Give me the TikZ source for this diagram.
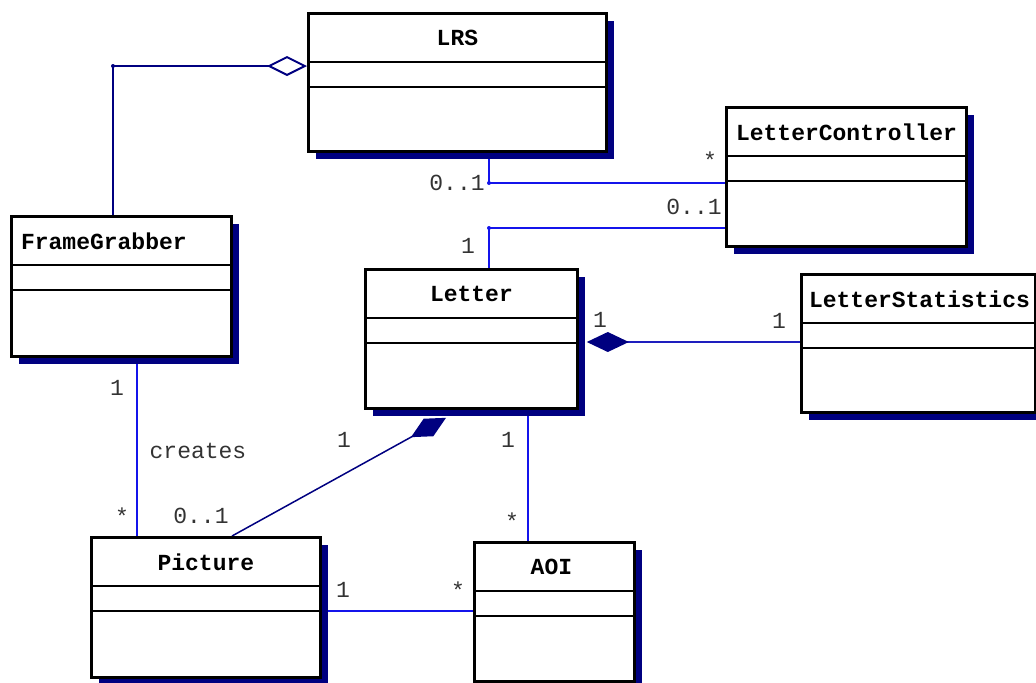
\documentclass[tikz,border=0pt]{standalone}
\usepackage{fontspec}
\setmonofont{Liberation Mono}
\usetikzlibrary{arrows.meta}
\usetikzlibrary{shadows}
\usetikzlibrary{calc}
\usetikzlibrary{backgrounds}

\definecolor{umlnavy}{RGB}{0,0,128}
\definecolor{umlblue}{RGB}{20,20,235}
\definecolor{umlmid}{RGB}{30,30,190}

\tikzset{
  umlclass/.style={draw, line width=1.4pt, fill=white, anchor=north west, inner sep=0pt,
    drop shadow={shadow xshift=4pt, shadow yshift=-4pt, fill=umlnavy, opacity=1}},
  classname/.style={font=\ttfamily\bfseries\fontsize{11.5}{14}\selectfont},
  mult/.style={font=\ttfamily\fontsize{11.5}{13}\selectfont, text=black!80, inner sep=0pt},
  assoc/.style={draw=umlblue, line width=0.75pt},
  navyassoc/.style={draw=umlnavy, line width=0.75pt},
  bend dot/.style={circle, fill=umlblue, inner sep=0pt, minimum size=2pt}
}

\begin{document}
\begin{tikzpicture}[x=0.5pt, y=-0.5pt]
    \useasboundingbox (0,0) rectangle (1036,682);

    % classes
    \node[umlclass, minimum width=149pt, minimum height=69pt] (LRS) at (307,12) {};
    \node[umlclass, minimum width=120pt, minimum height=69.5pt] (LetterController) at (725,106) {};
    \node[umlclass, minimum width=110pt, minimum height=70pt] (FrameGrabber) at (10,215) {};
    \node[umlclass, minimum width=106pt, minimum height=69.5pt] (Letter) at (364,268) {};
    \node[umlclass, minimum width=117pt, minimum height=69pt] (LetterStatistics) at (800,273) {};
    \node[umlclass, minimum width=114.5pt, minimum height=70pt] (Picture) at (90,536) {};
    \node[umlclass, minimum width=80pt, minimum height=69.5pt] (AOI) at (473,541) {};

    \node[classname] (LRS-name) at ($(LRS.north)+(0,26)$) {LRS};
    \node[classname, anchor=west] (LetterController-name) at ($(LetterController.north west)+(4,26)$) {LetterController};
    \node[classname, anchor=west] (FrameGrabber-name) at ($(FrameGrabber.north west)+(4,26)$) {FrameGrabber};
    \node[classname] (Letter-name) at ($(Letter.north)+(0,26)$) {Letter};
    \node[classname, anchor=west] (LetterStatistics-name) at ($(LetterStatistics.north west)+(2,26)$) {LetterStatistics};
    \node[classname] (Picture-name) at ($(Picture.north)+(0,26)$) {Picture};
    \node[classname] (AOI-name) at ($(AOI.north)+(-3,26)$) {AOI};

    % compartments
    \foreach \c in {LRS,LetterController,FrameGrabber,Letter,LetterStatistics,Picture,AOI} {
        \draw[line width=1pt] ($(\c.north west)+(0,50)$) -- ($(\c.north east)+(0,50)$);
        \draw[line width=1pt] ($(\c.north west)+(0,75)$) -- ($(\c.north east)+(0,75)$);
    }

    % associations
    \begin{scope}[on background layer]
        \draw[navyassoc, -{Diamond[open, length=20pt, width=10pt, line width=1pt]}]
            ($(FrameGrabber.north west)+(103,0)$) |- node[pos=.5, bend dot, fill=umlnavy] {} ($(LRS.north west)+(0,54)$);
        \draw[assoc] ($(LRS.south west)+(182,0)$) |- node[pos=.5, bend dot] {} ($(LetterController.north west)+(0,77)$);
        \draw[assoc] ($(Letter.north west)+(125,0)$) |- node[pos=.5, bend dot] {} ($(LetterController.north west)+(0,122)$);
        \draw[draw=umlmid, line width=0.75pt, {Diamond[length=21pt, width=10pt, color=umlnavy]}-]
            ($(Letter.north east)+(8,74)$) -- ($(LetterStatistics.north west)+(0,69)$);
        \draw[assoc] ($(FrameGrabber.south west)+(127,0)$) -- ($(Picture.north west)+(47,0)$);
        \draw[navyassoc, -{Diamond[length=20pt, width=10pt, color=umlnavy]}]
            ($(Picture.north west)+(142,0)$) -- ($(Letter.south west)+(82,8)$);
        \draw[assoc] ($(Letter.south west)+(164,0)$) -- ($(AOI.north west)+(55,0)$);
        \draw[assoc] ($(Picture.north east)+(0,75)$) -- ($(AOI.north west)+(0,70)$);
    \end{scope}

    % multiplicities
    \node[mult] (lrs-lc-a) at (457,183) {0..1};
    \node[mult] (lrs-lc-b) at (710,160) {*};
    \node[mult] (letter-lc-a) at (468,246) {1};
    \node[mult] (letter-lc-b) at (694,207) {0..1};
    \node[mult] (letter-stat-a) at (600,320) {1};
    \node[mult] (letter-stat-b) at (779,321) {1};
    \node[mult] (fg-pic-a) at (117,388) {1};
    \node[mult] (fg-pic-b) at (122,516) {*};
    \node[mult] (creates) at (198,451) {creates};
    \node[mult] (pic-letter-a) at (201,516) {0..1};
    \node[mult] (pic-letter-b) at (344,440) {1};
    \node[mult] (letter-aoi-a) at (508,440) {1};
    \node[mult] (letter-aoi-b) at (512,521) {*};
    \node[mult] (pic-aoi-a) at (343,590) {1};
    \node[mult] (pic-aoi-b) at (458,590) {*};
\end{tikzpicture}
\end{document}
